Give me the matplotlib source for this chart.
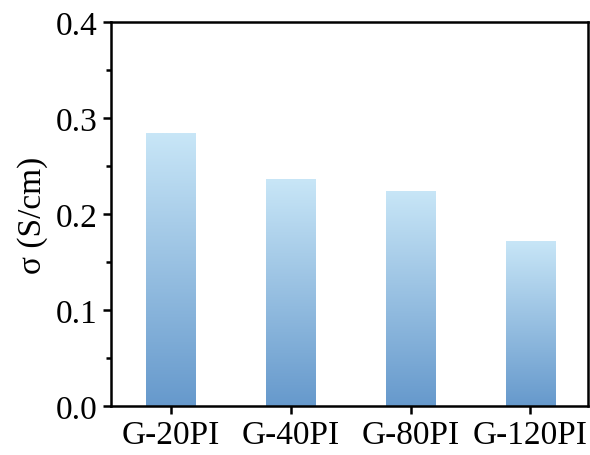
import numpy as np
import matplotlib.pyplot as plt
from matplotlib.colors import LinearSegmentedColormap
from matplotlib.ticker import MultipleLocator

plt.rcParams['font.family'] = ['Liberation Serif', 'DejaVu Serif']

samples = ['G-20PI', 'G-40PI', 'G-80PI', 'G-120PI']
sigma = [0.284, 0.236, 0.224, 0.172]

fig = plt.figure(figsize=(5.9, 4.56), dpi=100)
ax = fig.add_axes([111 / 590, 1 - 407 / 456, 477 / 590, 384 / 456])

x = np.arange(1, len(samples) + 1)
bars = ax.bar(x, sigma, width=0.41, color='none', edgecolor='none')

# vertical gradient, light at the top of each bar, darker at the base
cmap = LinearSegmentedColormap.from_list('blues', ['#6699cc', '#c8e6f7'])
grad = np.linspace(0, 1, 256).reshape(-1, 1)
for b in bars:
    x0, y0 = b.get_x(), b.get_y()
    im = ax.imshow(grad, cmap=cmap, origin='lower', aspect='auto',
                   extent=[x0, x0 + b.get_width(), y0, y0 + b.get_height()],
                   zorder=2)
    im.set_clip_path(b)

ax.set_xlim(0.5, 4.48)
ax.set_ylim(0, 0.4)
ax.set_xticks(x)
ax.set_xticklabels(samples)
ax.yaxis.set_major_locator(MultipleLocator(0.1))
ax.yaxis.set_minor_locator(MultipleLocator(0.05))
ax.set_ylabel('σ (S/cm)', fontsize=24, labelpad=6)

for s in ax.spines.values():
    s.set_linewidth(1.8)
ax.tick_params(axis='both', which='major', direction='out', length=6, width=1.8,
               labelsize=24, top=False, right=False)
ax.tick_params(axis='y', which='minor', direction='out', length=3.5, width=1.8)

fig.savefig('out.png', dpi=100)
